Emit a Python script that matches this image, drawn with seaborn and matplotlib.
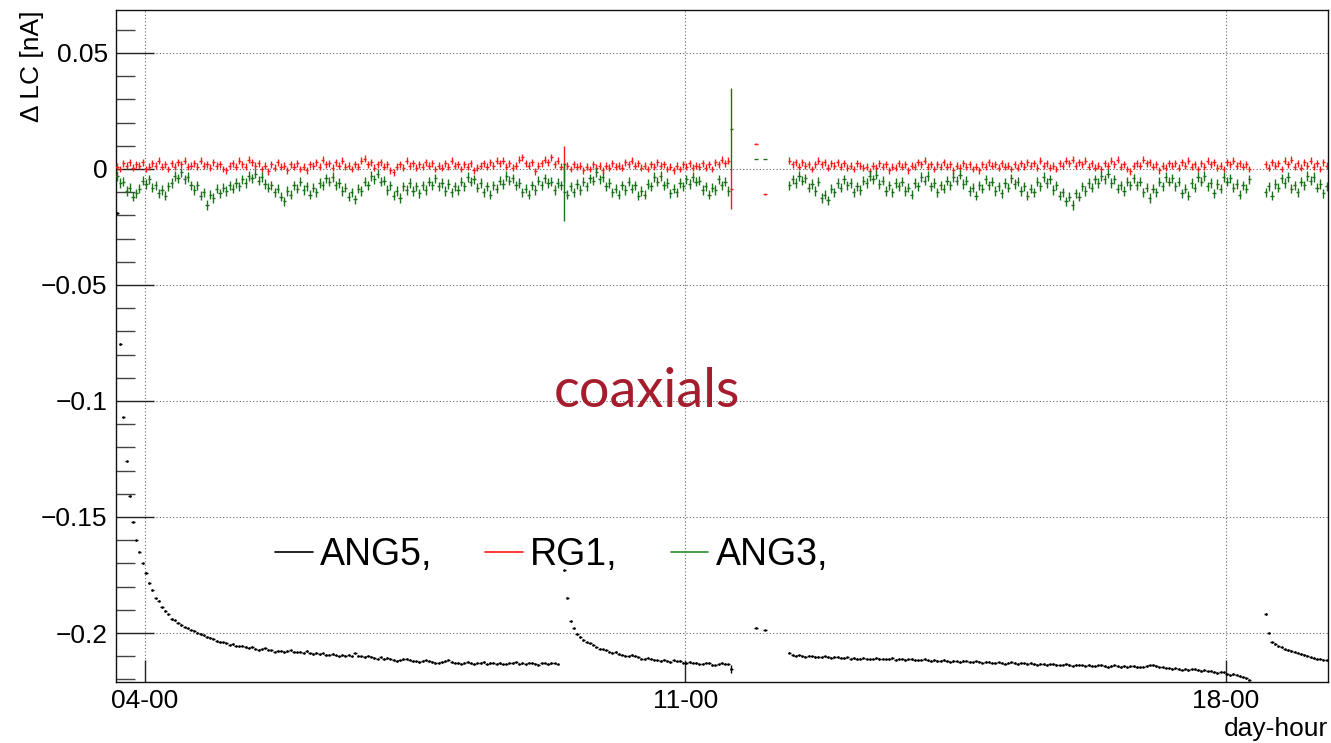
import numpy as np
import pandas as pd
import seaborn as sns
import matplotlib
matplotlib.use("Agg")
import matplotlib.pyplot as plt
from matplotlib.lines import Line2D
from matplotlib.ticker import MultipleLocator, FixedLocator

# ---------------- data (hourly samples; values in units of 1e-4 nA) ----------------
START_HOUR = 87.3            # hour index of first sample (day 3, ~15h)
SEG_STARTS_RG = [0, 209, 357]          # sample-index where each red/green segment starts
SEG_STARTS_BK = [0, 139, 209, 357]     # sample-index where each black segment starts

tick_hours = [96, 264, 432]
tick_labels = ["04-00", "11-00", "18-00"]

ang3_seg1 = [
    -30,-60,-55,-95,-80,-120,-105,-85,-50,-65,-45,-80,-70,-105,-90,-115,-75,-60,-30,-40,-15,-45,-35,-70,
    -90,-70,-115,-100,-155,-110,-125,-85,-105,-80,-95,-70,-85,-60,-75,-45,-60,-30,-40,-20,-50,-35,-65,-80,
    -70,-100,-85,-120,-140,-95,-110,-70,-85,-55,-90,-75,-110,-80,-100,-60,-70,-40,-55,-35,-70,-60,-95,-80,
    -120,-100,-130,-85,-95,-55,-70,-30,-45,-20,-55,-50,-90,-70,-115,-95,-125,-75,-90,-60,-95,-75,-105,-70,
    -90,-55,-70,-40,-75,-60,-95,-65,-100,-75,-90,-55,-75,-35,-55,-45,-80,-60,-100,-75,-110,-70,-85,-50,
    -65,-30,-50,-40,-70,-60,-100,-85,-110,-70,-90,-50,-70,-40,-60,-55,-90,-60,-70,-100,-110,-75,-100,-65,
    -90,-55,-75,-40,-50,-15,-45,-35,-75,-60,-100,-85,-110,-70,-90,-55,-85,-70,-115,-95,-110,-65,-75,-35,
    -55,-30,-70,-60,-105,-85,-100,-60,-75,-45,-65,-35,-55,-50,-90,-75,-110,-80,-90,-45,-70,-55,-95,172]
ang3_seg3 = [
    -70,-45,-60,-30,-50,-40,-80,-65,-95,-55,-125,-110,-135,-85,-100,-60,-80,-45,-70,-60,-100,-75,-90,-50,
    -60,-30,-45,-25,-65,-50,-95,-70,-100,-60,-75,-55,-95,-80,-110,-60,-75,-35,-50,-30,-75,-60,-100,-70,
    -85,-50,-70,-35,-50,-25,-65,-50,-95,-80,-115,-70,-85,-45,-70,-55,-95,-75,-105,-60,-80,-40,-65,-55,
    -95,-75,-115,-85,-100,-55,-75,-35,-60,-45,-90,-70,-115,-100,-140,-120,-155,-105,-120,-75,-95,-60,-80,-45,
    -60,-30,-45,-20,-60,-45,-85,-70,-95,-55,-70,-40,-70,-55,-100,-80,-125,-85,-100,-55,-75,-35,-55,-40,
    -75,-55,-105,-85,-115,-60,-80,-35,-55,-30,-75,-60,-105,-65,-85,-35,-55,-40,-80,-65,-110,-70,-85,-45]
ang3_seg4 = [-100,-75,-115,-65,-80,-40,-60,-35,-85,-70,-100,-55,-70,-30,-50,-35,-80,-65,-105,-75]

rg1_seg1 = [
    10,0,25,15,30,5,20,15,30,0,10,25,15,35,10,20,0,25,10,30,20,35,10,15,
    25,10,35,15,20,5,30,15,20,0,-5,15,25,10,35,20,10,40,30,15,25,0,15,-10,
    20,5,30,10,15,-5,20,10,25,0,10,-5,20,15,30,10,40,20,25,5,30,15,35,10,
    15,0,20,10,35,45,20,30,5,20,30,10,20,-5,-15,10,20,5,35,15,25,5,20,10,
    30,15,25,0,15,5,25,10,35,15,20,0,20,10,25,-5,5,15,25,10,30,15,35,25,
    35,10,25,5,15,40,50,25,15,30,-10,15,25,40,30,50,20,35,10,20,15,0,20,10,
    15,-5,10,0,20,5,15,-5,15,5,25,10,15,5,30,20,35,15,25,5,15,0,20,10,
    30,15,20,0,10,-5,15,0,20,10,25,5,15,10,25,5,20,0,30,20,40,25,35,-86]
rg1_seg3 = [
    35,20,30,10,30,15,20,0,20,35,20,30,5,25,15,30,10,25,5,15,0,25,15,5,
    10,-10,15,5,25,10,20,-5,10,5,25,10,20,-5,15,10,30,20,35,10,20,0,20,10,
    30,10,20,-5,15,5,25,10,20,0,10,-5,20,10,30,15,20,5,25,10,15,0,20,5,
    25,10,30,15,25,5,35,15,25,5,15,0,25,15,35,25,40,15,30,20,35,10,25,5,
    15,0,25,15,35,20,40,10,20,0,-10,15,25,15,40,25,30,10,20,-5,15,5,25,15,
    25,5,30,15,35,10,20,0,25,10,35,20,30,5,15,0,30,20,35,15,25,10,20,0]
rg1_seg4 = [20,5,30,15,25,0,35,20,40,10,25,5,30,15,35,10,25,0,30,15]

ang5_seg1 = [
    -190,-755,-1070,-1260,-1410,-1520,-1600,-1650,-1700,-1740,
    -1785,-1815,-1850,-1860,-1890,-1905,-1920,-1940,-1945,-1955,
    -1965,-1975,-1980,-1985,-1990,-1998,-2005,-2010,-2017,-2020,
    -2025,-2035,-2038,-2040,-2045,-2050,-2048,-2055,-2058,-2055,
    -2060,-2063,-2060,-2068,-2073,-2070,-2066,-2072,-2075,-2080,
    -2078,-2076,-2082,-2078,-2075,-2080,-2083,-2080,-2085,-2078,
    -2088,-2090,-2085,-2092,-2088,-2095,-2093,-2090,-2096,-2100,
    -2095,-2098,-2093,-2100,-2088,-2097,-2100,-2104,-2098,-2102,
    -2108,-2110,-2105,-2112,-2108,-2110,-2115,-2120,-2118,-2112,
    -2110,-2115,-2120,-2122,-2125,-2120,-2118,-2122,-2125,-2130,
    -2128,-2125,-2120,-2115,-2125,-2128,-2130,-2132,-2128,-2125,
    -2130,-2133,-2128,-2130,-2125,-2135,-2130,-2128,-2132,-2130,
    -2135,-2132,-2128,-2130,-2126,-2132,-2130,-2135,-2128,-2130,
    -2132,-2136,-2130,-2128,-2133,-2130,-2131,-2135]
ang5_seg2 = [
    -1730,-1848,-1950,-1980,-2005,-2017,-2030,-2040,-2045,-2050,
    -2062,-2068,-2070,-2075,-2080,-2085,-2082,-2090,-2093,-2098,
    -2100,-2095,-2098,-2105,-2110,-2112,-2106,-2110,-2115,-2118,
    -2120,-2115,-2122,-2125,-2118,-2122,-2120,-2128,-2130,-2125,
    -2128,-2130,-2135,-2132,-2128,-2130,-2138,-2140,-2135,-2130,
    -2132,-2135,-2155]
ang5_seg3 = [
    -2085,-2095,-2098,-2096,-2100,-2102,-2098,-2100,-2104,-2102,
    -2105,-2100,-2103,-2106,-2104,-2102,-2106,-2108,-2105,-2110,
    -2108,-2112,-2110,-2106,-2110,-2113,-2110,-2108,-2112,-2110,
    -2114,-2112,-2108,-2115,-2113,-2110,-2116,-2114,-2112,-2117,
    -2118,-2115,-2112,-2118,-2120,-2116,-2121,-2119,-2117,-2120,
    -2124,-2120,-2122,-2125,-2121,-2119,-2124,-2126,-2122,-2124,
    -2128,-2125,-2123,-2128,-2130,-2126,-2128,-2132,-2128,-2126,
    -2130,-2133,-2128,-2131,-2134,-2130,-2133,-2136,-2132,-2134,
    -2138,-2135,-2133,-2138,-2140,-2136,-2133,-2138,-2141,-2138,
    -2136,-2140,-2143,-2138,-2141,-2144,-2140,-2138,-2143,-2146,
    -2142,-2140,-2144,-2146,-2143,-2148,-2144,-2142,-2146,-2148,
    -2145,-2143,-2140,-2138,-2142,-2148,-2146,-2150,-2153,-2156,
    -2152,-2155,-2158,-2154,-2160,-2157,-2155,-2160,-2163,-2160,
    -2165,-2162,-2168,-2172,-2166,-2170,-2178,-2182,-2176,-2180,
    -2185,-2190,-2196,-2203]
ang5_seg4 = [-1918,-1998,-2040,-2048,-2058,-2062,-2070,-2073,-2078,-2080,
             -2085,-2090,-2095,-2098,-2105,-2108,-2112,-2110,-2115,-2118]

# isolated readings between the two runs (hour, value in 1e-4 nA)
sparse_hours = [285.9, 288.7]
rg1_sparse = [108, -108]
ang3_sparse = [43, 43]
ang5_sparse = [-1978, -1987]

# errors (nA)
ERR_RG1, ERR_ANG3, ERR_ANG5 = 0.0015, 0.002, 0.0003
big_err_rg1 = {139: 0.0078, 191: 0.0085}
big_err_ang3 = {139: 0.0125, 191: 0.0175}
big_err_ang5 = {191: 0.0017}

# ---------------- build tables ----------------
def build(segments, starts, err, big):
    idx, val = [], []
    for s, seg in zip(starts, segments):
        idx.extend(range(s, s + len(seg)))
        val.extend(seg)
    idx = np.array(idx)
    e = np.array([big.get(i, err) for i in idx])
    return pd.DataFrame({"hour": START_HOUR + idx, "lc": np.array(val) * 1e-4, "err": e})

df_ang5 = build([ang5_seg1, ang5_seg2, ang5_seg3, ang5_seg4], SEG_STARTS_BK, ERR_ANG5, big_err_ang5)
df_rg1 = build([rg1_seg1, rg1_seg3, rg1_seg4], SEG_STARTS_RG, ERR_RG1, big_err_rg1)
df_ang3 = build([ang3_seg1, ang3_seg3, ang3_seg4], SEG_STARTS_RG, ERR_ANG3, big_err_ang3)

sp = lambda v: pd.DataFrame({"hour": sparse_hours, "lc": np.array(v) * 1e-4, "err": 0.0002})
df_ang5 = pd.concat([df_ang5, sp(ang5_sparse)], ignore_index=True)
df_rg1 = pd.concat([df_rg1, sp(rg1_sparse)], ignore_index=True)
df_ang3 = pd.concat([df_ang3, sp(ang3_sparse)], ignore_index=True)

# ---------------- plot ----------------
sns.set_theme(style="ticks")
plt.rcParams["font.family"] = ["Liberation Sans", "DejaVu Sans"]
plt.rcParams["text.color"] = "black"
plt.rcParams["axes.labelcolor"] = "black"

W, H = 1331, 743
fig = plt.figure(figsize=(W / 100, H / 100), dpi=100)
fig.patch.set_facecolor("white")
ax = fig.add_axes([116 / W, 1 - 682 / H, (1328 - 116) / W, 672 / H])
ax.set_facecolor("white")

RED = "#ff1a1a"
GREEN = "#1a731a"
BLACK = "#000000"

for df, col in [(df_ang5, BLACK), (df_rg1, RED), (df_ang3, GREEN)]:
    ax.errorbar(df["hour"], df["lc"], xerr=0.5, yerr=df["err"], fmt="none",
                ecolor=col, elinewidth=1.0, capsize=0, zorder=3)
sns.scatterplot(data=df_ang5, x="hour", y="lc", color=BLACK, s=3, marker="o",
                linewidth=0, legend=False, ax=ax, zorder=4)

ax.set_xlim(87.0, 463.7)
ax.set_ylim(-0.22112, 0.06853)

ax.xaxis.set_major_locator(FixedLocator(tick_hours))
ax.set_xticklabels(tick_labels)
ax.yaxis.set_major_locator(MultipleLocator(0.05))
ax.yaxis.set_minor_locator(MultipleLocator(0.01))
ax.yaxis.set_major_formatter(matplotlib.ticker.FuncFormatter(
    lambda v, p: "0" if abs(v) < 1e-9 else ("%g" % v).replace("-", "\u2212")))

ax.tick_params(axis="y", which="major", direction="in", length=27, width=1.0,
               color="#222222", labelcolor="black", labelsize=19, pad=6, right=False, left=True)
ax.tick_params(axis="y", which="minor", direction="in", length=14, width=1.0,
               color="#444444", right=False, left=True)
ax.tick_params(axis="x", which="major", direction="in", length=16, width=1.0,
               color="#222222", labelcolor="black", labelsize=19, pad=5, top=False, bottom=True)
ax.tick_params(axis="x", which="minor", bottom=False, top=False)
for s in ax.spines.values():
    s.set_color("#111111")
    s.set_linewidth(1.0)

ax.grid(True, which="major", linestyle=(0, (1, 2)), color="#666666", linewidth=0.8)
ax.set_axisbelow(True)

ax.set_ylabel("\u0394 LC [nA]", fontsize=19, loc="top", color="black")
ax.yaxis.set_label_coords((44 - 116) / 1212, 1.0)
ax.set_xlabel("day-hour", fontsize=19, loc="right", color="black")
ax.xaxis.set_label_coords(1.0, (682 - 717) / 672)

ax.text((647 - 116) / 1212, (682 - 407) / 672, "coaxials", transform=ax.transAxes,
        ha="center", va="baseline", fontsize=39, color="#a51d2d", family="Lato")

handles = [Line2D([], [], color=BLACK, lw=1.2),
           Line2D([], [], color=RED, lw=1.2),
           Line2D([], [], color="#2e8b2e", lw=1.2)]
leg = ax.legend(handles, ["ANG5,", "RG1,", "ANG3,"], ncol=3, frameon=False, fontsize=27,
                loc="center left", bbox_to_anchor=((275 - 116) / 1212, (682 - 555) / 672),
                handlelength=1.0, handletextpad=0.19, columnspacing=1.42,
                borderpad=0, borderaxespad=0)
for t in leg.get_texts():
    t.set_color("black")

fig.savefig("out.png", dpi=100, facecolor="white")
